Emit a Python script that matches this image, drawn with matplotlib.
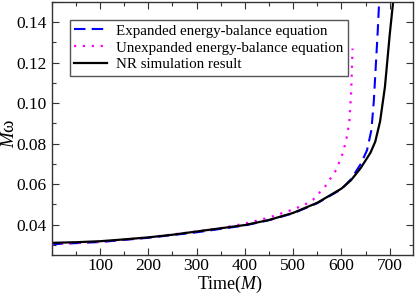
import matplotlib
matplotlib.use("Agg")
import matplotlib.pyplot as plt
from matplotlib.ticker import MultipleLocator
import numpy as np

plt.rcParams['font.family'] = ['Liberation Serif', 'DejaVu Serif']
plt.rcParams['mathtext.fontset'] = 'custom'
plt.rcParams['mathtext.it'] = 'Liberation Serif:italic'
plt.rcParams['mathtext.rm'] = 'Liberation Serif'

# NR simulation result (black solid)
t_nr = [0, 50, 100, 150, 200, 250, 300, 350, 400, 450, 500, 550, 600, 620, 640, 660, 670, 680, 690, 700, 707]
w_nr = [0.0310, 0.0313, 0.0318, 0.0327, 0.0337, 0.0350, 0.0366, 0.0382, 0.0398, 0.0423, 0.0458, 0.0508,
        0.0578, 0.0620, 0.0680, 0.0755, 0.0810, 0.0910, 0.1080, 0.1340, 0.1500]

# Expanded energy-balance equation (blue dashed)
t_exp = [0, 100, 200, 300, 400, 450, 500, 550, 600, 620, 640, 653, 662, 667, 671, 675, 678]
w_exp = [0.0303, 0.0314, 0.0335, 0.0362, 0.0396, 0.0422, 0.0456, 0.0506, 0.0575, 0.0625, 0.0700,
         0.0768, 0.0867, 0.1010, 0.1180, 0.1350, 0.1500]

# Unexpanded energy-balance equation (magenta dotted)
t_unexp = [0, 100, 200, 300, 350, 400, 450, 500, 525, 541, 566, 589, 603, 610, 616, 620, 623]
w_unexp = [0.0303, 0.0315, 0.0337, 0.0366, 0.0383, 0.0405, 0.0435, 0.0475, 0.0500, 0.0523, 0.0588,
           0.0670, 0.0754, 0.0820, 0.0900, 0.1050, 0.1270]

labels = ["Expanded energy-balance equation",
          "Unexpanded energy-balance equation",
          "NR simulation result"]

fig = plt.figure(figsize=(4.15, 2.94), dpi=100)
ax = fig.add_axes([0.1246, 0.1327, 0.8704, 0.8605])

ax.plot(t_exp, w_exp, color='#0000ff', ls=(0, (5.5, 3)), lw=1.5, label=labels[0])
ax.plot(t_unexp, w_unexp, color='#ff00ff', ls=(0, (1, 3)), lw=1.6, label=labels[1])
ax.plot(t_nr, w_nr, color='black', ls='-', lw=1.6, label=labels[2])

ax.set_xlim(0, 748)
ax.set_ylim(0.025, 0.15)
ax.xaxis.set_major_locator(MultipleLocator(100))
ax.xaxis.set_minor_locator(MultipleLocator(50))
ax.yaxis.set_major_locator(MultipleLocator(0.02))
ax.yaxis.set_minor_locator(MultipleLocator(0.01))
ax.set_xticks([100, 200, 300, 400, 500, 600, 700])
ax.set_yticks([0.04, 0.06, 0.08, 0.10, 0.12, 0.14])
ax.set_yticklabels(["0.04", "0.06", "0.08", "0.10", "0.12", "0.14"])
ax.tick_params(which='both', direction='in', top=True, right=True, labelsize=12.5, width=0.8, color='#333333')
ax.tick_params(axis='x', which='major', pad=2.5)
ax.tick_params(which='major', length=5)
ax.tick_params(which='minor', length=3)
for s in ax.spines.values():
    s.set_linewidth(1.0)
    s.set_color('#333333')

ax.set_xlabel(r"Time($\mathit{M}$)", fontsize=13, va='baseline')
ax.xaxis.set_label_coords(0.495, -0.133)
ax.set_ylabel(r"$\mathit{M}$ω", fontsize=13.5, va='center')
ax.yaxis.set_label_coords(-0.116, 0.48)

leg = ax.legend(loc='upper left', bbox_to_anchor=(0.05, 0.93), fontsize=10.8, frameon=True,
                fancybox=False, edgecolor='#555555', framealpha=1, handlelength=2.2,
                borderpad=0.3, labelspacing=0.22, handletextpad=0.6, borderaxespad=0)
leg.get_frame().set_linewidth(1.0)

fig.savefig("out.png", dpi=100)
